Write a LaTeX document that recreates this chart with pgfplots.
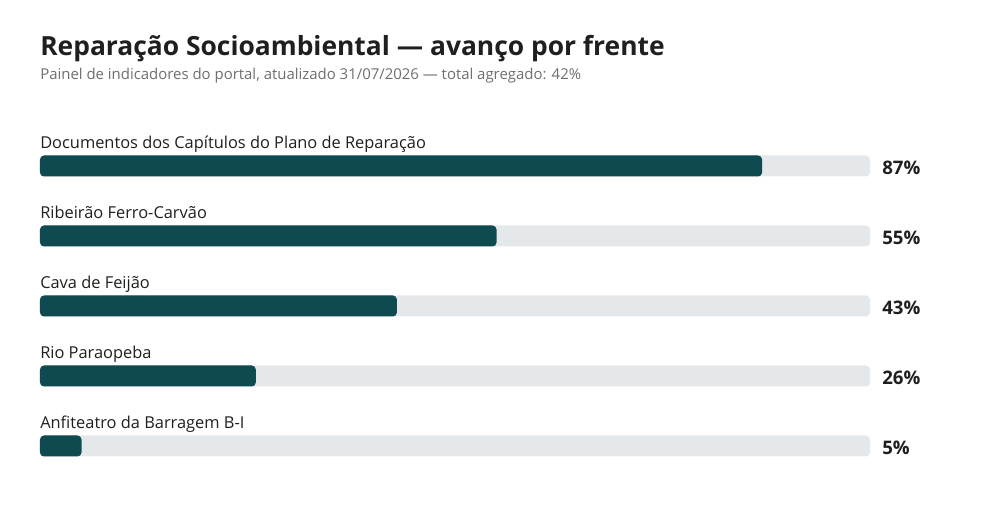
\documentclass[border=0pt]{standalone}
\usepackage{pgfplots}
\usepackage{pgfplotstable}
\pgfplotsset{compat=1.18}
\usepackage{fontspec}
\setmainfont{Open Sans}

\definecolor{barteal}{HTML}{0F4A50}
\definecolor{track}{HTML}{E5E8EB}
\definecolor{ink}{HTML}{1F1F1F}
\definecolor{subgray}{HTML}{6E6E6E}

\pgfplotstableread{
y pct
0 87
1 55
2 43
3 26
4 5
}\progress

\begin{document}
\begin{tikzpicture}
\useasboundingbox (0pt,0pt) rectangle (750pt,390pt);

\node[anchor=base west, text=ink, font=\bfseries\fontsize{19.8}{23}\selectfont, inner sep=0pt] at (30pt,348pt) {Reparação Socioambiental — avanço por frente};
\node[anchor=base west, text=subgray, font=\fontsize{11.2}{13}\selectfont, inner sep=0pt] at (30pt,330pt) {Painel de indicadores do portal, atualizado 31/07/2026 — total agregado: 42\%};

\begin{axis}[
at={(30pt,29.25pt)}, anchor=south west,
scale only axis,
width=622.5pt, height=262.5pt,
xmin=0, xmax=100,
ymin=-0.5, ymax=4.5,
y dir=reverse,
hide axis,
clip=false,
xbar, bar width=15.75pt, bar shift=0pt,
]
\addplot[draw=none, fill=track, rounded corners=3pt] table[x expr=100, y=y] {\progress};
\addplot[draw=none, fill=barteal, rounded corners=3pt] table[x=pct, y=y] {\progress};

\foreach \i/\lab/\v in {0/Documentos dos Capítulos do Plano de Reparação/87,1/Ribeirão Ferro-Carvão/55,2/Cava de Feijão/43,3/Rio Paraopeba/26,4/Anfiteatro da Barragem B-I/5}{
  \edef\temp{\noexpand\node[anchor=base west, inner sep=0pt, text=ink, font=\noexpand\fontsize{12.3}{15}\noexpand\selectfont, yshift=12.75pt] at (axis cs:0,\i) {\lab};
  \noexpand\node[anchor=west, inner sep=0pt, text=ink, font=\noexpand\bfseries\noexpand\fontsize{14}{16}\noexpand\selectfont, xshift=9pt, yshift=-1pt] at (axis cs:100,\i) {\v\noexpand\%};}
  \temp
}
\end{axis}
\end{tikzpicture}
\end{document}
